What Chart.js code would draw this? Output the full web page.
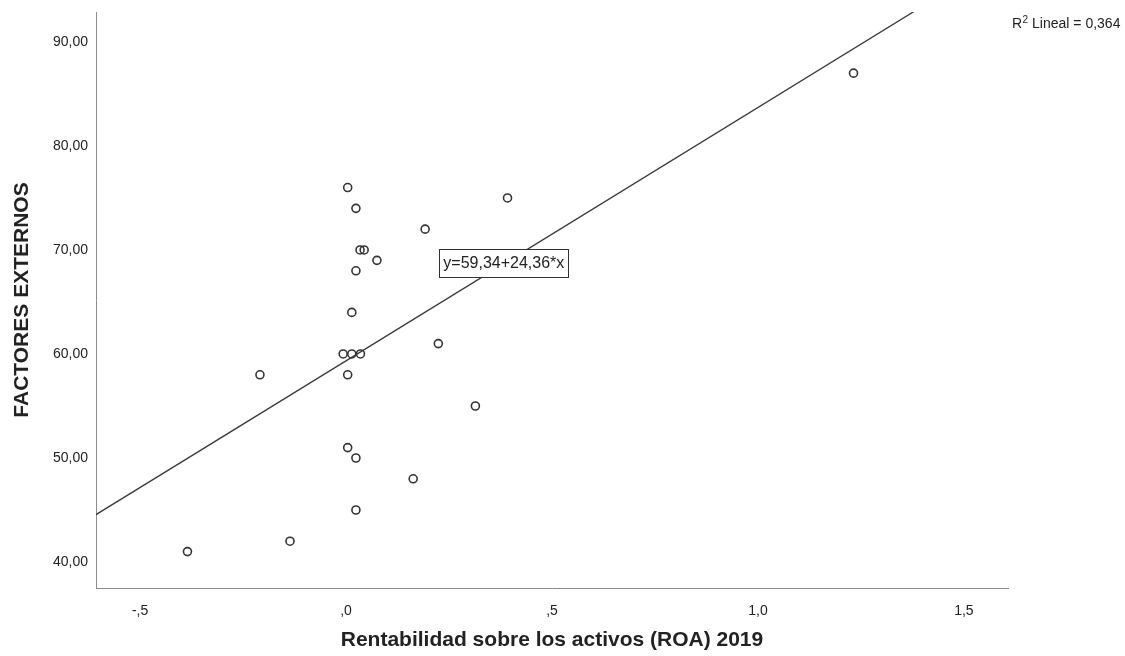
<!DOCTYPE html>
<html>
<head>
<meta charset="utf-8">
<script src="https://cdn.jsdelivr.net/npm/chart.js@4.4.1/dist/chart.umd.min.js"></script>
<style>
  html, body { margin: 0; padding: 0; background: #fff; }
  #wrap { width: 1125px; height: 656px; }
</style>
</head>
<body>
<div id="wrap"><canvas id="scatter" width="1125" height="656"></canvas></div>
<script>
// Data
const roa = [0.004, 0.024, 0.392, 0.192, 0.034, 0.044, 0.075, 0.024, 0.014, -0.007,
             0.014, 0.035, 0.224, 0.004, -0.209, 0.314, 0.004, 0.024, 0.163, 0.024,
             -0.136, -0.385, 1.232];
const factores = [76, 74, 75, 72, 70, 70, 69, 68, 64, 60,
                  60, 60, 61, 58, 58, 55, 51, 50, 48, 45,
                  42, 41, 87];
const xTicks = [-0.5, 0, 0.5, 1.0, 1.5];
const xTickLabels = ['-,5', ',0', ',5', '1,0', '1,5'];
const yTicks = [40, 50, 60, 70, 80, 90];
const yTickLabels = ['40,00', '50,00', '60,00', '70,00', '80,00', '90,00'];

// Linear fit shown on the chart
const fitIntercept = 59.34;
const fitSlope = 24.36;
const fitLabel = 'y=59,34+24,36*x';
const r2Text = '0,364';

const xMin = -0.607, xMax = 1.607;
const yMin = 37.5, yMax = 92.88;

const points = roa.map((v, i) => ({ x: v, y: factores[i] }));
const fitLine = [xMin, xMax].map(v => ({ x: v, y: fitIntercept + fitSlope * v }));

const FONT = '"Liberation Sans", Arial, sans-serif';
const TEXT = '#222';

// equation box + R2 label
const labelsPlugin = {
  id: 'fitLabels',
  afterDatasetsDraw(chart) {
    const { ctx, scales: { x, y } } = chart;
    ctx.save();

    // equation box, anchored in data space
    const cx = x.getPixelForValue(0.383);
    const cy = y.getPixelForValue(68.75);
    ctx.font = '16px ' + FONT;
    const w = ctx.measureText(fitLabel).width + 8;
    const h = 28;
    ctx.fillStyle = '#fff';
    ctx.fillRect(cx - w / 2, cy - h / 2, w, h);
    ctx.strokeStyle = '#333';
    ctx.lineWidth = 1;
    ctx.strokeRect(Math.round(cx - w / 2) + 0.5, Math.round(cy - h / 2) + 0.5, Math.round(w), h);
    ctx.fillStyle = TEXT;
    ctx.textAlign = 'center';
    ctx.textBaseline = 'middle';
    ctx.fillText(fitLabel, cx, cy + 1);

    // R2 Lineal at top right
    ctx.textAlign = 'left';
    ctx.textBaseline = 'alphabetic';
    let tx = 1012;
    const base = 28;
    ctx.font = '14px ' + FONT;
    ctx.fillText('R', tx, base);
    tx += ctx.measureText('R').width + 0.5;
    ctx.font = '10px ' + FONT;
    ctx.fillText('2', tx, base - 5);
    tx += ctx.measureText('2').width;
    ctx.font = '14px ' + FONT;
    ctx.fillText(' Lineal = ' + r2Text, tx, base);
    ctx.restore();
  }
};

const ctx = document.getElementById('scatter').getContext('2d');
new Chart(ctx, {
  type: 'scatter',
  data: {
    datasets: [
      {
        label: 'Lineal',
        type: 'line',
        data: fitLine,
        borderColor: '#3a3a3a',
        borderWidth: 1.3,
        pointRadius: 0,
        fill: false,
        clip: 0
      },
      {
        label: 'FACTORES EXTERNOS',
        data: points,
        pointRadius: 4,
        pointBorderWidth: 1.6,
        borderColor: '#333',
        backgroundColor: 'rgba(255,255,255,0)',
        pointBackgroundColor: 'rgba(255,255,255,0)',
        pointBorderColor: '#333'
      }
    ]
  },
  options: {
    responsive: false,
    animation: false,
    devicePixelRatio: 1,
    layout: { padding: { top: 12, right: 117, left: 0, bottom: 0 } },
    plugins: {
      legend: { display: false },
      tooltip: { enabled: false }
    },
    scales: {
      x: {
        type: 'linear',
        min: xMin,
        max: xMax,
        afterBuildTicks: s => { s.ticks = xTicks.map(v => ({ value: v })); },
        afterFit: s => { s.height = 68; },
        grid: { display: false, drawTicks: false },
        border: { display: true, color: '#8c8c8c', width: 1 },
        ticks: {
          padding: 15,
          color: TEXT,
          font: { family: FONT, size: 14 },
          callback: v => xTickLabels[xTicks.indexOf(v)]
        },
        title: {
          display: true,
          text: 'Rentabilidad sobre los activos (ROA) 2019',
          color: TEXT,
          font: { family: FONT, size: 21, weight: 'bold' },
          padding: { top: 0, bottom: 3 }
        }
      },
      y: {
        type: 'linear',
        min: yMin,
        max: yMax,
        afterBuildTicks: s => { s.ticks = yTicks.map(v => ({ value: v })); },
        afterFit: s => { s.width = 96; s.paddingTop = 0; s.paddingBottom = 0; },
        grid: { display: false, drawTicks: false },
        border: { display: true, color: '#8c8c8c', width: 1 },
        ticks: {
          padding: 8,
          color: TEXT,
          font: { family: FONT, size: 14 },
          callback: v => yTickLabels[yTicks.indexOf(v)]
        },
        title: {
          display: true,
          text: 'FACTORES EXTERNOS',
          color: TEXT,
          font: { family: FONT, size: 21, weight: 'bold' },
          padding: { top: 10, bottom: 0 }
        }
      }
    }
  },
  plugins: [labelsPlugin]
});
</script>
</body>
</html>
